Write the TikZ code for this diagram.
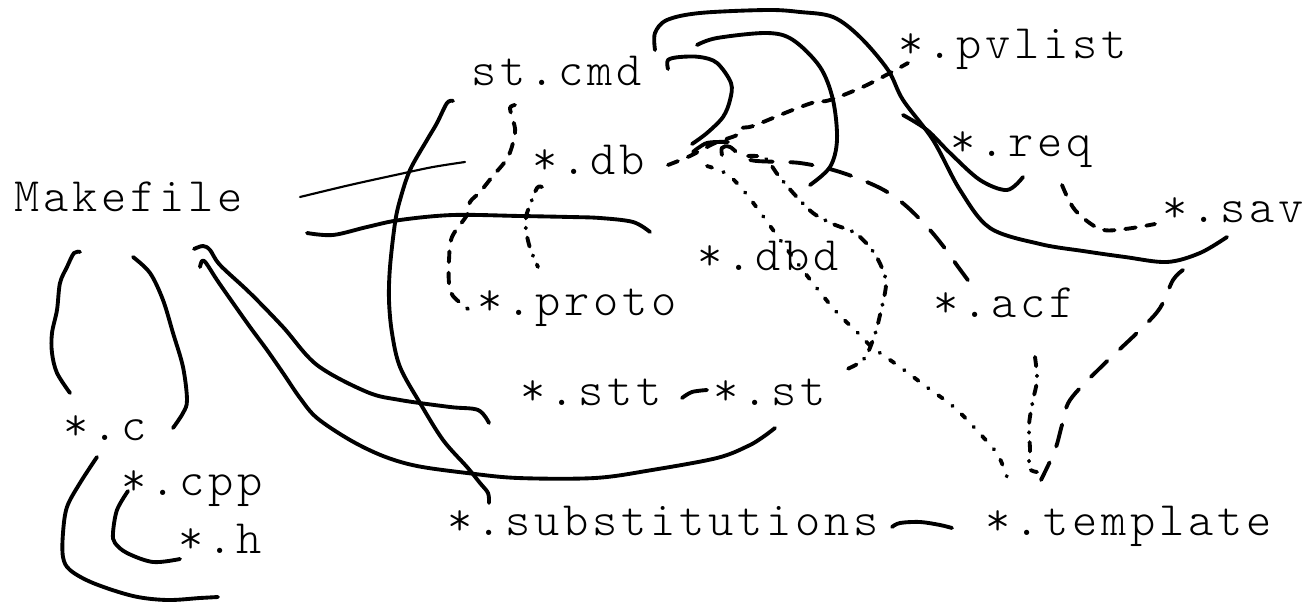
\documentclass[tikz,border=0pt]{standalone}
\usepackage{fontspec}
\newfontfamily\labelfont[LetterSpace=7.9]{lmmonolt10-regular.otf}
\begin{document}
\begin{tikzpicture}[x=0.75pt,y=-0.75pt,
  lbl/.style={font=\labelfont\fontsize{36}{40}\selectfont, anchor=base west, inner sep=0pt},
  solidline/.style={line width=2.9pt, line cap=round, line join=round},
  thinline/.style={line width=1.6pt, line cap=round, line join=round},
  dashline/.style={line width=2.9pt, line cap=round, dash pattern=on 8pt off 8pt},
  longdash/.style={line width=2.9pt, line cap=round, dash pattern=on 17pt off 13pt},
  dashdotline/.style={line width=2.9pt, line cap=round, dash pattern=on 7pt off 7pt on 0.5pt off 7pt},
  dotline/.style={line width=2.9pt, line cap=round, dash pattern=on 4pt off 9pt on 0.5pt off 9pt},
  sm/.style={smooth, tension=0.55}]
\useasboundingbox (0,0) rectangle (1306,606);

% labels
\node[lbl] (mk)    at (14,211)  {Makefile};
\node[lbl] (cmd)   at (471,86)  {st.cmd};
\node[lbl] (pv)    at (898,59)  {*.pvlist};
\node[lbl] (db)    at (532,175) {*.db};
\node[lbl] (req)   at (950,157) {*.req};
\node[lbl] (sav)   at (1162,222){*.sav};
\node[lbl] (dbd)   at (697,270) {*.dbd};
\node[lbl] (proto) at (477,315) {*.proto};
\node[lbl] (acf)   at (933,317) {*.acf};
\node[lbl] (stt)   at (520,405) {*.stt};
\node[lbl] (st)    at (713,405) {*.st};
\node[lbl] (c)     at (63,440)  {*.c};
\node[lbl] (cpp)   at (121,495) {*.cpp};
\node[lbl] (h)     at (178,553) {*.h};
\node[lbl] (subs)  at (447,535) {*.substitutions};
\node[lbl] (tmpl)  at (985,535) {*.template};

% named connector ends
\coordinate (mkA) at (300,197);  \coordinate (dbA) at (465,162);
\coordinate (mkB) at (307,233);  \coordinate (dbdB) at (650,232);
\coordinate (mkC1) at (80,252);  \coordinate (cC1) at (70,393);
\coordinate (mkC2) at (133,257); \coordinate (cC2) at (173,428);
\coordinate (mkE) at (194,249);  \coordinate (sttE) at (489,423);
\coordinate (mkF) at (200,267);  \coordinate (stF) at (775,428);
\coordinate (cmdG) at (453,101); \coordinate (subsG) at (489,503);
\coordinate (cH) at (97,457);    \coordinate (hH) at (218,597);
\coordinate (cppI) at (128,491); \coordinate (hI) at (180,559);
\coordinate (cmdJ) at (668,69);  \coordinate (dbJ) at (692,144);
\coordinate (cmdK) at (655,50);  \coordinate (savK) at (1227,237);
\coordinate (cmdL) at (697,45);  \coordinate (dbL) at (810,185);
\coordinate (pvM) at (903,115);  \coordinate (reqM) at (1023,177);
\coordinate (subsN) at (892,527);\coordinate (tmplN) at (952,528);
\coordinate (sttO) at (682,398); \coordinate (stO) at (707,390);

% solid connectors
\draw[thinline] plot[sm] coordinates {(mkA) (350,185) (400,174) (433,167) (dbA)};
\draw[solidline] plot[sm] coordinates {(mkB) (333,235) (367,227) (400,220) (453,215) (520,216) (570,217) (600,218) (633,222) (dbdB)};
\draw[solidline] plot[sm] coordinates {(mkC1) (74,253) (67,267) (60,283) (57,310) (52,333) (52,353) (57,373) (cC1)};
\draw[solidline] plot[sm] coordinates {(mkC2) (150,273) (163,300) (173,333) (183,367) (187,400) (183,413) (cC2)};
\draw[solidline] plot[sm] coordinates {(mkE) (203,246) (210,250) (220,265) (250,293) (283,327) (317,365) (367,392) (400,400) (450,407) (478,410) (sttE)};
\draw[solidline] plot[sm] coordinates {(mkF) (202,261) (206,263) (217,280) (233,303) (250,327) (267,350) (283,373) (300,398) (317,418) (350,440) (383,456) (417,466) (467,473) (518,478) (595,478) (652,470) (717,458) (748,446) (763,437) (stF)};
\draw[solidline] plot[sm] coordinates {(cmdG) (447,103) (437,123) (427,140) (410,170) (400,200) (395,223) (390,267) (389,300) (392,333) (400,367) (420,403) (443,440) (467,467) (480,483) (488,493) (subsG)};
\draw[solidline] plot[sm] coordinates {(cH) (80,483) (67,507) (63,533) (63,557) (70,570) (93,583) (133,596) (167,600) (200,598) (hH)};
\draw[solidline] plot[sm] coordinates {(cppI) (117,510) (113,533) (115,543) (127,553) (153,562) (hI)};
\draw[solidline] plot[sm] coordinates {(cmdJ) (668,60) (680,57) (700,57) (717,63) (731,83) (730,100) (723,117) (707,133) (dbJ)};
\draw[solidline] plot[sm] coordinates {(693,152) (707,143) (728,142)};
\draw[solidline] plot[sm] coordinates {(cmdK) (655,33) (667,20) (700,13) (767,10) (800,12) (833,17) (860,37) (888,70) (903,100) (933,140) (960,190) (990,228) (1040,244) (1083,251) (1125,257) (1167,262) (1200,253) (savK)};
\draw[solidline] plot[sm] coordinates {(cmdL) (717,38) (767,33) (793,40) (820,67) (833,100) (837,140) (830,167) (dbL)};
\draw[solidline] plot[sm] coordinates {(pvM) (927,130) (950,153) (980,180) (1007,190) (reqM)};
\draw[solidline] plot[sm] coordinates {(subsN) (900,523) (920,522) (940,525) (tmplN)};
\draw[solidline] plot[sm] coordinates {(sttO) (692,392) (stO)};

% dashed connectors
\coordinate (cmdQ) at (515,105); \coordinate (protoQ) at (468,309);
\draw[dashline] plot[sm] coordinates {(cmdQ) (510,108) (513,120) (515,133) (508,157) (492,177) (480,192) (470,202) (467,215) (452,237) (449,260) (449,283) (453,296) (protoQ)};
\coordinate (dbR) at (542,187); \coordinate (protoR) at (538,267);
\draw[dashdotline] plot[sm] coordinates {(dbR) (537,188) (530,205) (526,217) (526,230) (530,248) (protoR)};
\coordinate (dbS) at (668,165); \coordinate (pvS) at (908,63);
\draw[dashline] plot[sm] coordinates {(dbS) (690,156) (715,143) (737,135) (741,128) (753,126) (790,111) (815,102) (830,100) (867,85) (pvS)};
\coordinate (dbT) at (722,155); \coordinate (acfT) at (973,287);
\draw[longdash] plot[sm] coordinates {(dbT) (722,148) (730,147) (750,160) (800,163) (840,172) (880,188) (905,205) (930,230) (950,255) (956,264) (acfT)};
\coordinate (dbU) at (707,166); \coordinate (tmplU) at (1007,477);
\draw[dotline] plot[sm] coordinates {(dbU) (727,174) (743,190) (760,212) (795,260) (833,308) (858,333) (872,347) (900,367) (928,388) (955,408) (983,437) (998,455) (tmplU)};
\coordinate (dbV) at (748,156); \coordinate (stV) at (840,372);
\draw[dashdotline] plot[sm] coordinates {(dbV) (765,158) (778,175) (795,195) (813,213) (833,224) (855,233) (872,250) (882,268) (886,285) (880,315) (874,337) (863,360) (stV)};
\coordinate (acfW) at (1035,357); \coordinate (tmplW) at (1037,472);
\draw[dashdotline] plot[sm] coordinates {(acfW) (1037,380) (1033,400) (1029,425) (1030,450) (1029,468) (tmplW)};
\coordinate (savX) at (1183,270); \coordinate (tmplX) at (1041,480);
\draw[longdash] plot[sm] coordinates {(savX) (1173,280) (1160,308) (1140,330) (1100,368) (1070,400) (1062,425) (1055,450) (tmplX)};
\coordinate (reqY) at (1062,185); \coordinate (savY) at (1155,224);
\draw[dashline] plot[sm] coordinates {(reqY) (1075,210) (1100,229) (1125,229) (savY)};
\end{tikzpicture}
\end{document}
